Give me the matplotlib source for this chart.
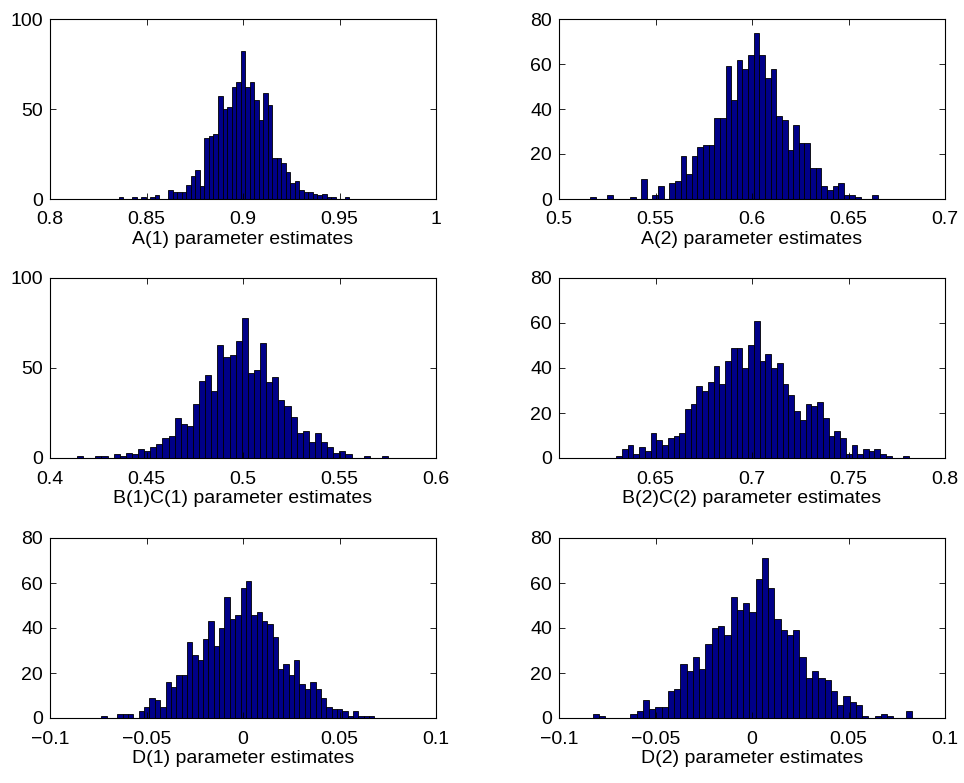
import numpy as np
import matplotlib
matplotlib.use("Agg")
import matplotlib.pyplot as plt

plt.rcParams['font.family'] = ['Liberation Sans', 'DejaVu Sans']

# ---- data: bin ranges (min, max of samples) and counts per bin (51 bins) ----
a1_range = (0.8355, 0.9550)
a1_counts = [1, 0, 0, 1, 0, 1, 0, 1, 2, 0, 0, 5, 4, 4, 4, 8, 13, 16, 7, 34,
             35, 36, 57, 50, 51, 62, 65, 82, 62, 65, 55, 44, 59, 52, 23, 23, 20, 15, 9, 10,
             5, 4, 4, 3, 2, 3, 1, 1, 0, 0, 1]

a2_range = (0.5163, 0.6651)
a2_counts = [1, 0, 0, 2, 0, 0, 0, 1, 0, 9, 0, 2, 6, 0, 7, 8, 19, 11, 19, 23,
             24, 24, 36, 36, 59, 44, 62, 58, 64, 74, 64, 54, 58, 37, 35, 22, 33, 25, 25, 14,
             14, 6, 4, 6, 7, 2, 2, 1, 0, 0, 2]

bc1_range = (0.4140, 0.5752)
bc1_counts = [1, 0, 0, 1, 1, 0, 2, 1, 3, 2, 5, 4, 6, 8, 11, 12, 22, 19, 18, 30,
              43, 46, 37, 63, 56, 57, 65, 78, 47, 49, 64, 42, 45, 32, 29, 23, 14, 15, 9, 14,
              9, 6, 3, 4, 2, 0, 0, 1, 0, 0, 1]

bc2_range = (0.6296, 0.7813)
bc2_counts = [1, 4, 6, 2, 5, 3, 11, 8, 6, 9, 10, 11, 22, 24, 32, 30, 34, 41, 33, 43,
              49, 49, 40, 50, 61, 43, 46, 40, 42, 33, 28, 21, 17, 24, 23, 25, 18, 10, 12, 9,
              2, 6, 2, 4, 3, 4, 2, 1, 0, 0, 1]

d1_range = (-0.07345, 0.0681)
d1_counts = [1, 0, 0, 2, 2, 2, 0, 3, 5, 9, 8, 5, 16, 14, 19, 19, 34, 28, 26, 35,
             43, 32, 40, 54, 44, 46, 58, 61, 46, 47, 43, 42, 36, 22, 24, 19, 26, 15, 13, 16,
             13, 9, 5, 4, 4, 3, 1, 3, 1, 1, 1]

d2_range = (-0.08253, 0.08304)
d2_counts = [2, 1, 0, 0, 0, 0, 2, 3, 8, 4, 5, 5, 12, 13, 24, 21, 27, 22, 33, 40,
             41, 37, 54, 48, 51, 47, 62, 71, 58, 44, 39, 37, 39, 27, 18, 21, 18, 17, 12, 6,
             10, 7, 6, 1, 0, 1, 2, 1, 0, 0, 3]

labels = ["A(1) parameter estimates", "A(2) parameter estimates",
          "B(1)C(1) parameter estimates", "B(2)C(2) parameter estimates",
          "D(1) parameter estimates", "D(2) parameter estimates"]

xlims = [(0.8, 1.0), (0.5, 0.7), (0.4, 0.6), (0.6, 0.8), (-0.1, 0.1), (-0.1, 0.1)]
xticks = [[0.8, 0.85, 0.9, 0.95, 1.0],
          [0.5, 0.55, 0.6, 0.65, 0.7],
          [0.4, 0.45, 0.5, 0.55, 0.6],
          [0.65, 0.7, 0.75, 0.8],
          [-0.1, -0.05, 0, 0.05, 0.1],
          [-0.1, -0.05, 0, 0.05, 0.1]]
xticklabels = [["0.8", "0.85", "0.9", "0.95", "1"],
               ["0.5", "0.55", "0.6", "0.65", "0.7"],
               ["0.4", "0.45", "0.5", "0.55", "0.6"],
               ["0.65", "0.7", "0.75", "0.8"],
               ["\u22120.1", "\u22120.05", "0", "0.05", "0.1"],
               ["\u22120.1", "\u22120.05", "0", "0.05", "0.1"]]
ylims = [100, 80, 100, 80, 80, 80]
yticks = [[0, 50, 100], [0, 20, 40, 60, 80], [0, 50, 100],
          [0, 20, 40, 60, 80], [0, 20, 40, 60, 80], [0, 20, 40, 60, 80]]

ranges = [a1_range, a2_range, bc1_range, bc2_range, d1_range, d2_range]
counts = [a1_counts, a2_counts, bc1_counts, bc2_counts, d1_counts, d2_counts]

W, H = 964, 783
fig = plt.figure(figsize=(W / 100, H / 100), dpi=100)

lefts = [50, 559]
tops = [19, 278, 538]
aw, ah = 386, 180
FS = 14

for i in range(6):
    r, c = divmod(i, 2)
    l = lefts[c]
    t = tops[r]
    ax = fig.add_axes([l / W, 1 - (t + ah) / H, aw / W, ah / H])
    lo, hi = ranges[i]
    n = len(counts[i])
    edges = np.linspace(lo, hi, n + 1)
    ax.bar(edges[:-1], counts[i], width=(hi - lo) / n, align='edge',
           color='#000088', edgecolor='black', linewidth=0.6)
    ax.set_xlim(*xlims[i])
    ax.set_ylim(0, ylims[i])
    ax.set_xticks(xticks[i])
    ax.set_xticklabels(xticklabels[i])
    ax.set_yticks(yticks[i])
    ax.tick_params(direction='in', top=True, right=True, length=4, width=0.6,
                   labelsize=FS)
    ax.tick_params(axis='x', pad=9)
    ax.tick_params(axis='y', pad=5)
    for s in ax.spines.values():
        s.set_linewidth(0.8)
    ax.set_xlabel(labels[i], fontsize=FS, labelpad=2)

fig.savefig("out.png", dpi=100)
